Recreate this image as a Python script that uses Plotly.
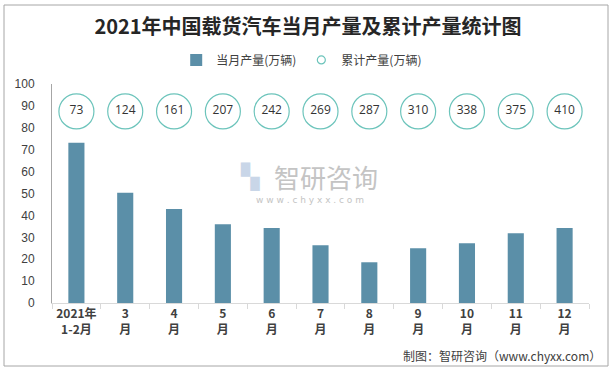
import plotly.graph_objects as go

categories = ["2021年<br>1-2月", "3<br>月", "4<br>月", "5<br>月", "6<br>月", "7<br>月",
              "8<br>月", "9<br>月", "10<br>月", "11<br>月", "12<br>月"]
monthly = [73.2, 50.3, 42.9, 36.0, 34.2, 26.4, 18.6, 25.0, 27.3, 31.9, 34.2]
cumulative = [73, 124, 161, 207, 242, 269, 287, 310, 338, 375, 410]
circle_level = [87.5] * len(categories)
y_ticks = list(range(0, 101, 10))

BAR = "#5B8FA8"
RING = "#6CC4BB"

fig = go.Figure()
fig.add_trace(go.Bar(
    x=categories, y=monthly, name="当月产量(万辆)",
    marker=dict(color=BAR, line=dict(width=0)), width=0.33,
))
fig.add_trace(go.Scatter(
    x=categories, y=circle_level, mode="markers+text",
    text=[str(v) for v in cumulative], textposition="middle center",
    textfont=dict(family="Open Sans", size=12, color="#333333"),
    marker=dict(symbol="circle", size=35, color="white", line=dict(color=RING, width=1.2)),
    showlegend=False, hoverinfo="skip",
))
fig.add_trace(go.Scatter(
    x=[categories[0]], y=[None], mode="markers", name="累计产量(万辆)",
    marker=dict(symbol="circle-open", size=8, color=RING, line=dict(width=1.2)),
))

fig.update_layout(
    width=616, height=370,
    margin=dict(l=52, r=27, t=84, b=67, autoexpand=False),
    paper_bgcolor="white", plot_bgcolor="rgba(0,0,0,0)",
    font=dict(family="Noto Sans CJK SC", size=12, color="#404040"),
    title=dict(text="<b>2021年中国载货汽车当月产量及累计产量统计图</b>",
               x=0.5, xanchor="center", y=0.927, yanchor="middle",
               font=dict(family="Noto Sans CJK SC", size=20, color="#262626")),
    legend=dict(orientation="h", x=0.465, xanchor="center", y=1.11, yanchor="middle",
                font=dict(size=12, color="#404040"), itemwidth=30,
                traceorder="normal", bgcolor="rgba(0,0,0,0)"),
    showlegend=True,
    bargap=0.67,
    xaxis=dict(
        type="category", categoryorder="array", categoryarray=categories,
        range=[-0.5, len(categories) - 0.5],
        showline=True, linecolor="#d9d9d9", linewidth=1,
        ticks="outside", tickson="boundaries", ticklen=5, tickcolor="#d9d9d9",
        tickangle=0, automargin=False,
        tickfont=dict(family="Noto Sans CJK SC", size=12, color="#404040"),
        showgrid=False, zeroline=False,
        tickvals=categories, ticktext=["<b>" + c + "</b>" for c in categories],
    ),
    yaxis=dict(
        range=[0, 100], tickvals=y_ticks, showline=True, linecolor="#a6a6a6", linewidth=1,
        showgrid=False, zeroline=False, ticks="", ticklabelstandoff=14, automargin=False,
        tickfont=dict(family="Liberation Sans", size=12, color="#404040"),
    ),
)

# outer border
fig.add_shape(type="rect", xref="paper", yref="paper",
              x0=(4 - 52) / 537, x1=(608 - 52) / 537,
              y0=(303 - 366) / 219, y1=(303 - 5) / 219,
              line=dict(color="#a6a6a6", width=1), fillcolor="rgba(0,0,0,0)", layer="below")

# watermark
fig.add_annotation(text="智研咨询", xref="paper", yref="paper",
                   x=(326 - 52) / 537, y=(303 - 176) / 219, showarrow=False,
                   font=dict(family="Noto Sans CJK SC", size=26, color="#c4c4c4"))
fig.add_annotation(text="w w w . c h y x x . c o m", xref="paper", yref="paper",
                   x=(310 - 52) / 537, y=(303 - 200) / 219, showarrow=False,
                   font=dict(family="DejaVu Sans", size=9, color="#c4c4c4"))
fig.add_annotation(text="▚", xref="paper", yref="paper",
                   x=(250 - 52) / 537, y=(303 - 176) / 219, showarrow=False,
                   font=dict(family="DejaVu Sans", size=24, color="#c9d6e8"))

# source
fig.add_annotation(text="制图：智研咨询（www.chyxx.com）", xref="paper", yref="paper",
                   x=(603 - 52) / 537, xanchor="right", y=(303 - 355) / 219, yanchor="middle",
                   showarrow=False,
                   font=dict(family="Noto Sans CJK SC", size=12, color="#404040"))

fig.write_html("out.html", config={"displayModeBar": False},
               post_script="document.body.style.margin='0';document.body.style.overflow='hidden';")
